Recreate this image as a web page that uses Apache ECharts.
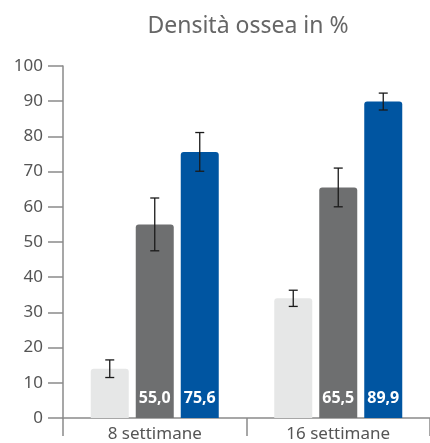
<!DOCTYPE html>
<html>
<head>
<meta charset="utf-8">
<script src="https://cdn.jsdelivr.net/npm/echarts@6/dist/echarts.min.js"></script>
<style>
  html, body { margin: 0; padding: 0; background: #fff; }
  #chart { width: 430px; height: 443px; }
</style>
</head>
<body>
<div id="chart"></div>
<script>
  // categorie e valori
  var categories = ['8 settimane', '16 settimane'];
  var valLight = [14.0, 34.0];
  var valGray = [55.0, 65.5];
  var valBlue = [75.6, 89.9];
  // semi-ampiezza delle barre di errore
  var errLight = [2.5, 2.3];
  var errGray = [7.5, 5.5];
  var errBlue = [5.5, 2.4];

  var BAR_W = 38;
  var GAP = 7;

  var chart = echarts.init(document.getElementById('chart'));

  function errData(vals, errs) {
    return vals.map(function (v, i) {
      return [i, v - errs[i], v + errs[i]];
    });
  }

  function errSeries(vals, errs, slot) {
    return {
      type: 'custom',
      z: 10,
      silent: true,
      data: errData(vals, errs),
      renderItem: function (params, api) {
        var x = api.coord([api.value(0), 0])[0] + slot * (BAR_W + GAP);
        var lo = api.coord([api.value(0), api.value(1)])[1];
        var hi = api.coord([api.value(0), api.value(2)])[1];
        var cap = 4.5;
        var st = { stroke: '#1a1a1a', lineWidth: 1.3 };
        return {
          type: 'group',
          children: [
            { type: 'line', shape: { x1: x, y1: lo, x2: x, y2: hi }, style: st },
            { type: 'line', shape: { x1: x - cap, y1: lo, x2: x + cap, y2: lo }, style: st },
            { type: 'line', shape: { x1: x - cap, y1: hi, x2: x + cap, y2: hi }, style: st }
          ]
        };
      }
    };
  }

  var valueLabel = {
    show: true,
    position: 'insideBottom',
    distance: 12,
    color: '#fff',
    fontFamily: 'Noto Sans',
    fontWeight: 'bold',
    fontSize: 16,
    formatter: function (p) {
      return p.value.toFixed(1).replace('.', ',');
    }
  };

  var option = {
    animation: false,
    title: {
      text: 'Densità ossea in %',
      left: 248,
      textAlign: 'center',
      top: 15,
      padding: 0,
      textStyle: {
        fontFamily: 'Noto Sans',
        fontWeight: 'normal',
        fontSize: 23,
        color: '#666'
      }
    },
    grid: { left: 63, right: -2, top: 66, bottom: 24 },
    xAxis: {
      type: 'category',
      data: categories,
      axisLine: { lineStyle: { color: '#8a8a8a', width: 1.5 } },
      axisTick: { show: true, length: 18, lineStyle: { color: '#8a8a8a', width: 1.5 } },
      axisLabel: {
        margin: 8,
        fontFamily: 'Noto Sans',
        fontSize: 17,
        color: '#555'
      }
    },
    yAxis: {
      type: 'value',
      min: 0,
      max: 100,
      interval: 10,
      splitLine: { show: false },
      axisLine: { show: true, lineStyle: { color: '#8a8a8a', width: 1.5 } },
      axisTick: { show: true, length: 15, lineStyle: { color: '#8a8a8a', width: 1.5 } },
      axisLabel: {
        margin: 20,
        fontFamily: 'Noto Sans',
        fontSize: 17,
        color: '#555'
      }
    },
    series: [
      {
        name: 'A', type: 'bar', data: valLight, barWidth: BAR_W, barGap: (GAP / BAR_W * 100) + '%',
        itemStyle: { color: '#e6e7e7', borderRadius: [3, 3, 0, 0] }
      },
      {
        name: 'B', type: 'bar', data: valGray, barWidth: BAR_W,
        itemStyle: { color: '#6e6f70', borderRadius: [3, 3, 0, 0] },
        label: valueLabel
      },
      {
        name: 'C', type: 'bar', data: valBlue, barWidth: BAR_W,
        itemStyle: { color: '#0055a1', borderRadius: [3, 3, 0, 0] },
        label: valueLabel
      },
      errSeries(valLight, errLight, -1),
      errSeries(valGray, errGray, 0),
      errSeries(valBlue, errBlue, 1)
    ]
  };

  chart.setOption(option);
</script>
</body>
</html>
